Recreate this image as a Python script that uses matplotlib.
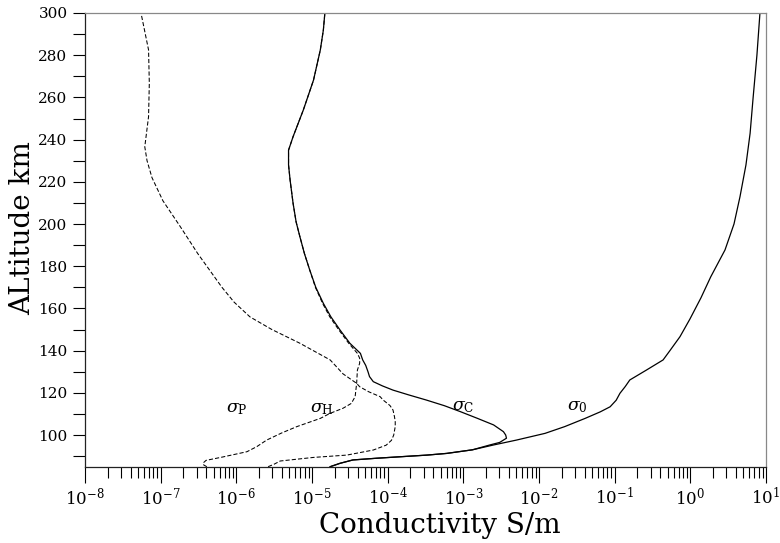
import numpy as np
import matplotlib
matplotlib.use("Agg")
import matplotlib.pyplot as plt
from matplotlib.ticker import LogLocator, MultipleLocator, NullFormatter

plt.rcParams['font.family'] = ['DejaVu Serif']
plt.rcParams['mathtext.fontset'] = 'dejavuserif'

# altitude (km) and log10 conductivity (S/m)
alt_0 = [85.0, 86.6, 88.2, 89.0, 89.7, 90.5, 91.3, 93.0, 95.3, 97.6, 100.8, 104.0,
         107.9, 111.0, 113.4, 116.5, 119.8, 123.0, 126.1, 130.8, 135.6, 140.0,
         146.6, 155.0, 165.0, 175.0, 187.7, 200.0, 212.9, 228.0, 243.0, 260.0,
         280.0, 300.0]
log_0 = [-4.76, -4.63, -4.46, -4.15, -3.84, -3.48, -3.22, -2.88, -2.60, -2.30, -1.92, -1.66,
         -1.39, -1.19, -1.06, -0.98, -0.93, -0.86, -0.80, -0.58, -0.36, -0.27,
         -0.137, -0.005, 0.14, 0.27, 0.458, 0.577, 0.656, 0.735, 0.79, 0.83,
         0.88, 0.92]

alt_c = [85.0, 86.6, 88.2, 89.0, 89.7, 90.5, 91.3, 93.0, 95.3, 96.5, 98.5, 100.0,
         101.6, 104.8, 108.0, 111.1, 113.9, 116.6, 119.0, 121.3, 123.3, 125.3,
         127.7, 130.0, 133.0, 135.6, 138.7, 143.5, 149.8, 156.0, 162.4, 170.0,
         178.2, 186.0, 194.0, 201.0, 209.8, 221.0, 228.0, 235.0, 241.4, 254.0,
         268.2, 282.5, 291.9, 300.0]
log_c = [-4.76, -4.63, -4.46, -4.15, -3.84, -3.48, -3.22, -2.88, -2.65, -2.52, -2.43, -2.44,
         -2.47, -2.60, -2.82, -3.04, -3.25, -3.49, -3.72, -3.93, -4.07, -4.19,
         -4.24, -4.26, -4.29, -4.33, -4.36, -4.50, -4.63, -4.75, -4.85, -4.95,
         -5.03, -5.10, -5.16, -5.21, -5.25, -5.29, -5.31, -5.31, -5.25, -5.115,
         -4.98, -4.89, -4.85, -4.83]

alt_p = [85.0, 85.8, 86.7, 88.0, 89.6, 92.1, 94.5, 97.6, 101.0, 104.0, 107.9, 110.3,
         112.7, 115.0, 118.2, 124.5, 130.8, 134.0, 136.4, 138.7, 143.5, 149.8,
         156.0, 162.4, 170.0, 178.2, 186.0, 194.0, 201.0, 209.8, 221.0, 228.0,
         235.0, 241.4, 254.0, 268.2, 282.5, 291.9, 300.0]
log_p = [-6.39, -6.43, -6.44, -6.40, -6.18, -5.86, -5.73, -5.60, -5.40, -5.20, -4.89, -4.76,
         -4.59, -4.48, -4.43, -4.41, -4.40, -4.37, -4.37, -4.40, -4.515, -4.645,
         -4.765, -4.86, -4.955, -5.03, -5.10, -5.16, -5.21, -5.25, -5.29, -5.31,
         -5.31, -5.25, -5.115, -4.98, -4.89, -4.85, -4.83]

alt_h = [85.0, 86.2, 87.7, 89.4, 90.5, 92.9, 95.2, 97.5, 100.0, 104.0, 106.3, 108.7,
         111.9, 114.0, 116.6, 118.2, 120.5, 122.9, 124.5, 129.0, 135.6, 143.5,
         150.0, 156.0, 163.0, 170.0, 178.0, 186.0, 199.0, 211.0, 222.0, 230.0,
         236.6, 250.9, 266.7, 282.5, 300.0]
log_h = [-5.58, -5.50, -5.42, -4.98, -4.54, -4.19, -4.02, -3.95, -3.92, -3.90, -3.90, -3.91,
         -3.93, -3.97, -4.06, -4.10, -4.25, -4.37, -4.41, -4.59, -4.76, -5.16,
         -5.53, -5.82, -6.03, -6.19, -6.35, -6.51, -6.745, -6.97, -7.115, -7.18,
         -7.21, -7.16, -7.15, -7.16, -7.26]

labels = [r'$\sigma_{\mathrm{P}}$', r'$\sigma_{\mathrm{H}}$', r'$\sigma_{\mathrm{C}}$', r'$\sigma_{0}$']
label_x = [1.01e-6, 1.34e-5, 1.0e-3, 3.2e-2]
label_y = [112.7, 112.7, 113.4, 113.4]

fig = plt.figure(figsize=(7.8, 5.43), dpi=100)
ax = fig.add_axes([85/780, 1-466.7/543, 681/780, 453.7/543])

dash = (0, (4, 2))
ax.plot(10**np.array(log_0), alt_0, 'k-', lw=0.9)
ax.plot(10**np.array(log_c), alt_c, 'k-', lw=0.9)
ax.plot(10**np.array(log_p), alt_p, color='k', ls=dash, lw=0.75)
ax.plot(10**np.array(log_h), alt_h, color='k', ls=dash, lw=0.75)

for t, x, y in zip(labels, label_x, label_y):
    ax.text(x, y, t, ha='center', va='center', fontsize=12.5)

ax.set_xscale('log')
ax.set_xlim(1e-8, 1e1)
ax.set_ylim(85, 300)
ax.xaxis.set_major_locator(LogLocator(base=10, numticks=20))
ax.xaxis.set_minor_locator(LogLocator(base=10, subs=np.arange(2, 10), numticks=20))
ax.xaxis.set_minor_formatter(NullFormatter())
ax.yaxis.set_major_locator(MultipleLocator(20))
ax.yaxis.set_minor_locator(MultipleLocator(10))

ax.tick_params(axis='x', which='major', direction='out', length=11.5, width=0.8, labelsize=12, pad=3)
ax.tick_params(axis='x', which='minor', direction='out', length=8, width=0.8)
ax.tick_params(axis='y', which='both', direction='out', length=8.6, width=0.8, labelsize=11, pad=4)

for s in ['top', 'right']:
    ax.spines[s].set_color('#888888')
for s in ['left', 'bottom']:
    ax.spines[s].set_color('#222222')
for s in ax.spines.values():
    s.set_linewidth(0.9)

ax.set_xlabel('Conductivity S/m', fontsize=20)
ax.set_ylabel('ALtitude km', fontsize=20)
ax.xaxis.set_label_coords(0.521, -0.100)
ax.yaxis.set_label_coords(-0.072, 0.526)

fig.savefig('out.png', dpi=100)
